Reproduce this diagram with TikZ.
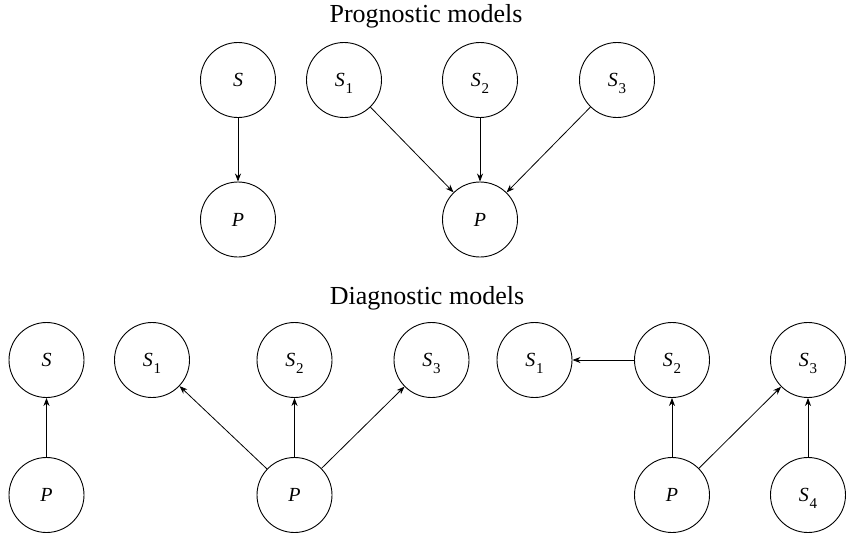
\documentclass[tikz,border=0pt]{standalone}
\usepackage{fontspec}
\setmainfont{Liberation Serif}
\usetikzlibrary{arrows.meta}
% variable name with a lowered index (index kept out of the box height)
\newcommand{\vidx}[2]{\textit{#1}\kern0.8pt\raisebox{-6.5pt}[0pt][0pt]{\fontsize{15}{15}\selectfont #2}}
\begin{document}
\begin{tikzpicture}[x=1pt,y=-1pt,
  var/.style={circle,draw,line width=0.9pt,minimum size=75pt,inner sep=0pt,
    font=\fontsize{20}{24}\selectfont},
  edge/.style={line width=0.8pt,-{Stealth[length=8pt,width=6pt,inset=2.5pt]}},
  heading/.style={font=\fontsize{26}{30}\selectfont}]
\useasboundingbox (0,0) rectangle (846,533);

% Prognostic models
\node[heading] (t1) at (426,16) {Prognostic models};
\node[var] (aS) at (238,80) {\textit{S}};
\node[var] (aP) at (238,219.5) {\textit{P}};
\node[var] (bS1) at (344,80) {\vidx{S}{1}};
\node[var] (bS2) at (480,80) {\vidx{S}{2}};
\node[var] (bS3) at (617,80) {\vidx{S}{3}};
\node[var] (bP) at (480,219.5) {\textit{P}};
\draw[edge] (aS) -- (aP);
\draw[edge] (bS1) -- (bP);
\draw[edge] (bS2) -- (bP);
\draw[edge] (bS3) -- (bP);

% Diagnostic models
\node[heading] (t2) at (427,298) {Diagnostic models};
\node[var] (cS) at (46.5,360) {\textit{S}};
\node[var] (cP) at (46.5,495) {\textit{P}};
\node[var] (dS1) at (152,360) {\vidx{S}{1}};
\node[var] (dS2) at (294.5,360) {\vidx{S}{2}};
\node[var] (dS3) at (431.5,360) {\vidx{S}{3}};
\node[var] (dP) at (294.5,495) {\textit{P}};
\node[var] (eS1) at (534.5,360) {\vidx{S}{1}};
\node[var] (eS2) at (672,360) {\vidx{S}{2}};
\node[var] (eS3) at (808,360) {\vidx{S}{3}};
\node[var] (eP) at (672,495) {\textit{P}};
\node[var] (eS4) at (808,495) {\vidx{S}{4}};
\draw[edge] (cP) -- (cS);
\draw[edge] (dP) -- (dS1);
\draw[edge] (dP) -- (dS2);
\draw[edge] (dP) -- (dS3);
\draw[edge] (eS2) -- (eS1);
\draw[edge] (eP) -- (eS2);
\draw[edge] (eP) -- (eS3);
\draw[edge] (eS4) -- (eS3);
\end{tikzpicture}
\end{document}
